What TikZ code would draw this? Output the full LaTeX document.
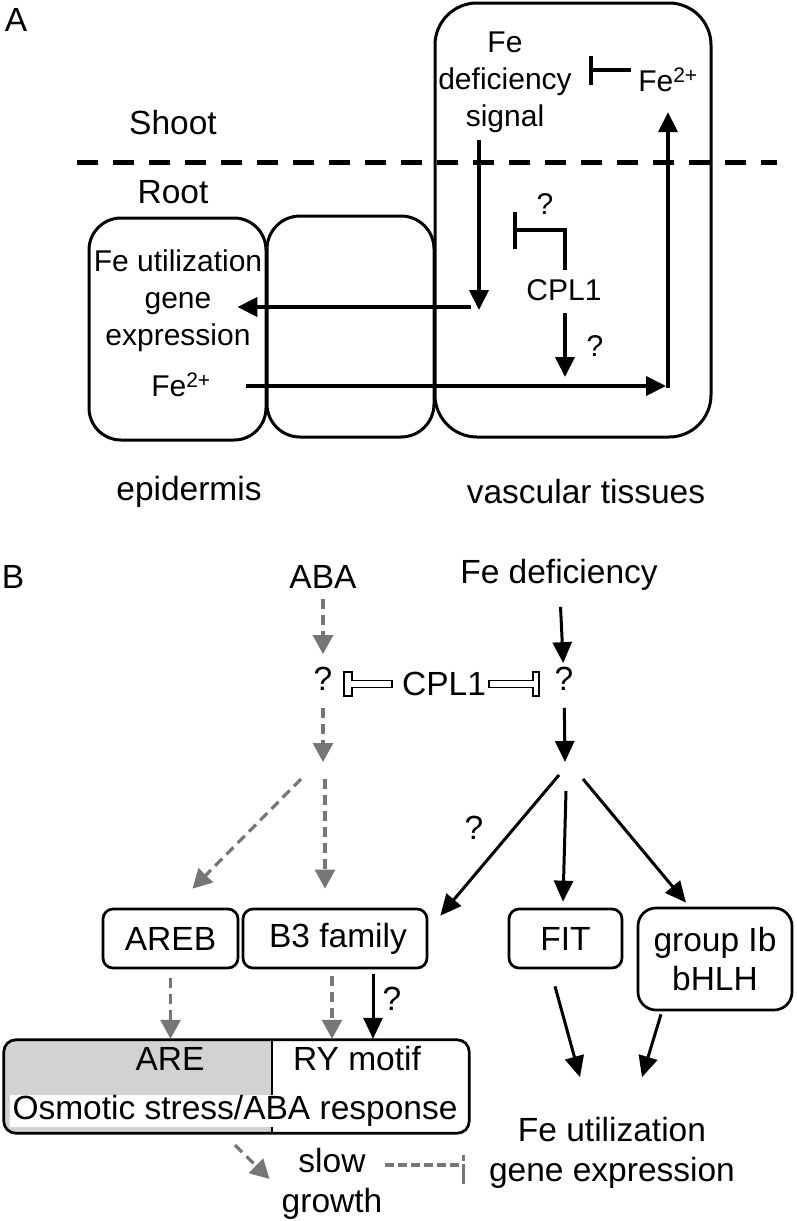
\documentclass[tikz,border=0pt]{standalone}
\usepackage{fontspec}
\setmainfont{Liberation Sans}
\usetikzlibrary{arrows.meta,calc}
\definecolor{dgray}{RGB}{118,118,118}
\definecolor{boxgray}{RGB}{210,210,210}
\begin{document}
\begin{tikzpicture}[x=1pt,y=-1pt,
  fb/.style={font=\fontsize{33.5}{40}\selectfont},
  fm/.style={font=\fontsize{30}{37}\selectfont},
  txt/.style={inner sep=0pt,align=center},
  cell/.style={draw,line width=3pt,inner sep=0pt},
  rbox/.style={draw,line width=2.7pt,rounded corners=10pt,inner sep=0pt,align=center,fb},
  blkA/.style={line width=4pt,-{Triangle[width=19pt,length=20pt]}},
  blkB/.style={line width=3pt,-{Triangle[width=19pt,length=21pt]}},
  gdash/.style={draw=dgray,line width=3.2pt,dash pattern=on 10pt off 6pt},
  garr/.style={gdash,-{Triangle[width=20pt,length=19pt]}},
  hollow/.style={draw,line width=1.3pt,fill=white,line join=miter},
]
\useasboundingbox (0,0) rectangle (797,1221);

% ---------------- Panel A ----------------
\node[cell,rounded corners=42pt,minimum width=276pt,minimum height=434pt] (vasc) at (573,220) {};
\node[cell,rounded corners=33pt,minimum width=167pt,minimum height=221pt] (midc) at (350.5,326.5) {};
\node[cell,rounded corners=32pt,minimum width=177pt,minimum height=222pt] (epi) at (177.5,329) {};

\coordinate (dl) at (77,162);
\coordinate (dr) at (777,162);
\draw[line width=5pt,dash pattern=on 21pt off 15pt] (dl) -- (dr);

\node[txt,fb] (labA) at (16,20) {A};
\node[txt,fb] (shoot) at (173,123) {Shoot};
\node[txt,fb] (root) at (173,192) {Root};
\node[txt,fb] (epil) at (189,492) {epidermis};
\node[txt,fb] (vasl) at (586,492) {vascular tissues};
\node[txt,fm] (sig) at (505,82) {Fe\\deficiency\\signal};
\node[txt,fm] (fetop) at (668,80) {Fe\textsuperscript{2+}};
\node[txt,fm] (futA) at (178,301) {Fe utilization\\gene\\expression};
\node[txt,fm] (febot) at (181,385) {Fe\textsuperscript{2+}};
\node[txt,fm] (cplA) at (564,290) {CPL1};
\node[txt,fm] (qa1) at (545,204) {?};
\node[txt,fm] (qa2) at (595,346) {?};

\coordinate (sigHub) at (479,310);
\draw[blkA] ($(sig.south)+(-26,7)$) -- (sigHub);
\draw[blkA] ($(sigHub)+(-8,-3)$) -- ($(futA.east)+(-25,6)$);

\draw[line width=4pt,-{Bar[width=29pt]}] ($(fetop.west)+(-7,-10)$) -- ($(fetop.west)+(-49,-10)$);

\coordinate (corner) at (668,386);
\draw[blkA] ($(febot.east)+(35,1)$) -- ($(corner)+(-2,0)$);
\draw[blkA] ($(corner)+(0,2)$) -- ($(fetop.south)+(0,20)$);

\coordinate (inhQ) at (513,230);
\draw[line width=4pt,line join=miter,-{Bar[width=37pt]}] ($(cplA.north)+(1,-9)$) |- (inhQ);
\coordinate (cplEnd) at (565,377);
\draw[blkA] ($(cplA.south)+(1,12)$) -- (cplEnd);

% ---------------- Panel B ----------------
\node[txt,fb] (labB) at (13,577) {B};
\node[txt,fb] (aba) at (323,577) {ABA};
\node[txt,fb] (fedef) at (559,575) {Fe deficiency};
\node[txt,fb] (q1) at (323,679) {?};
\node[txt,fb] (cplB) at (444,684) {CPL1};
\node[txt,fb] (q2) at (564,679) {?};

% hollow inhibitors from CPL1
\draw[hollow] ($(cplB.west)+(-10,-3.5)$) -- ++(-40,0) -- ++(0,-8.5) -- ++(-8,0) -- ++(0,24) -- ++(8,0) -- ++(0,-8.5) -- ++(40,0) -- cycle;
\draw[hollow] ($(cplB.east)+(3,-3.5)$) -- ++(44,0) -- ++(0,-8.5) -- ++(6,0) -- ++(0,24) -- ++(-6,0) -- ++(0,-8.5) -- ++(-44,0) -- cycle;

\node[rbox,minimum width=135pt,minimum height=59pt] (areb) at (170.5,938.5) {AREB};
\node[rbox,minimum width=184pt,minimum height=59pt] (b3) at (335,938.5) {\hspace*{6pt}B3 family};
\node[rbox,minimum width=113pt,minimum height=59pt] (fit) at (565.5,938.5) {FIT};
\node[rbox,rounded corners=18pt,minimum width=154pt,minimum height=102pt,font=\fontsize{33.5}{39}\selectfont] (grp) at (715,959) {group Ib\\bHLH};

\node[txt,fb] (q3) at (474,828) {?};
\node[txt,fb] (q4) at (392,999) {?};

% ABA branch
\coordinate (hubA) at (323,762);
\coordinate (hubA1) at (301,779);
\coordinate (hubA2) at (325,779);
\draw[garr,shorten <=10pt,shorten >=13pt] (aba) -- (q1);
\draw[garr,shorten <=17pt] (q1) -- (hubA);
\draw[garr] (hubA1) -- ($(areb.north)+(22,-19)$);
\draw[garr] (hubA2) -- ($(b3.north)+(-10,-19)$);

% Fe deficiency branch
\coordinate (hubB) at (565,762);
\coordinate (hubB1) at (559,775);
\coordinate (hubB2) at (566,791);
\coordinate (hubB3) at (583,779);
\draw[blkB,shorten <=16pt,shorten >=4pt] (fedef) -- (q2);
\draw[blkB,shorten <=17pt] (q2) -- (hubB);
\draw[blkB] (hubB1) -- ($(b3.north east)+(12,8)$);
\draw[blkB] (hubB2) -- ($(fit.north)+(-2.5,-6)$);
\draw[blkB] (hubB3) -- ($(grp.north)+(-29,-4)$);

% promoter box
\node[inner sep=0pt,minimum width=465pt,minimum height=93pt] (bigbox) at (236.5,1086.5) {};
\begin{scope}
  \clip[rounded corners=12pt] (bigbox.north west) rectangle (bigbox.south east);
  \fill[boxgray] (bigbox.north west) rectangle ($(bigbox.south west)+(268,0)$);
\end{scope}
\draw[line width=2pt] ($(bigbox.north west)+(268,0)$) -- ($(bigbox.south west)+(268,0)$);
\node[fill=white,inner xsep=3pt,inner ysep=0pt,fb] (osm) at (235,1111) {Osmotic stress/ABA response};
\draw[line width=2.7pt,rounded corners=12pt] (bigbox.north west) rectangle (bigbox.south east);
\node[txt,fb] (are) at (170,1059) {ARE};
\node[txt,fb] (ry) at (357,1059) {RY motif};

\coordinate (b3g) at ($(b3.south)+(-3,0)$);
\coordinate (b3k) at ($(b3.south)+(38,0)$);
\draw[garr,shorten <=9pt,shorten >=1pt] (areb.south) -- (areb.south |- bigbox.north);
\draw[garr,shorten <=7pt,shorten >=1pt] (b3g) -- (b3g |- bigbox.north);
\draw[blkB,shorten <=5pt,shorten >=1pt] (b3k) -- (b3k |- bigbox.north);

% outputs
\node[txt,fb] (slowg) at (332,1184) {slow\\growth};
\node[txt,fb] (futB) at (612,1153) {Fe utilization\\gene expression};

\draw[garr] ($(bigbox.south)+(-1.5,12)$) -- ($(slowg.west)+(-12,-5)$);
\draw[gdash,dash pattern=on 9pt off 4pt] ($(slowg.east)+(3,-19)$) -- ($(futB.west)+(-25.5,12)$) coordinate (gbar);
\draw[draw=dgray,line width=3pt,dash pattern=on 6pt off 3pt on 22pt off 3pt] ($(gbar)+(0,-10)$) -- ($(gbar)+(0,19)$);

\draw[blkB] ($(fit.south)+(-10.5,17)$) -- ($(futB.north)+(-32,-40)$);
\draw[blkB] ($(grp.south)+(-54,3)$) -- ($(futB.north)+(30,-40)$);
\end{tikzpicture}
\end{document}
